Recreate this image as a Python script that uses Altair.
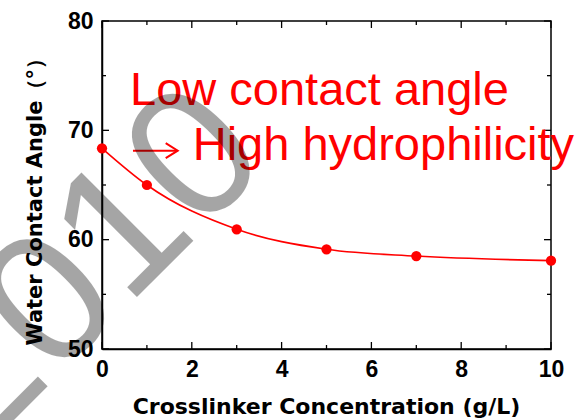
import altair as alt
import pandas as pd

# data
conc = [0, 1, 3, 5, 7, 10]
angle = [68.36, 65.0, 60.95, 59.12, 58.5, 58.08]

x_major = [0, 2, 4, 6, 8, 10]
x_minor = [1, 3, 5, 7, 9]
y_major = [50, 60, 70, 80]
y_minor = [55, 65, 75]

label1 = "Low contact angle"
label2 = "High hydrophilicity"
watermark = "2010"

W, H = 449, 328
xs = alt.Scale(domain=[0, 10], nice=False, zero=False)
ys = alt.Scale(domain=[50, 80], nice=False, zero=False)

df = pd.DataFrame({"c": conc, "a": angle})
one = pd.DataFrame({"k": [0]})

x_axis = alt.Axis(
    values=x_major, format="d", ticks=False, tickSize=0, grid=False,
    domainColor="black", domainWidth=1.5,
    labelFont="Liberation Sans", labelFontWeight="bold", labelFontSize=23,
    labelColor="black", labelPadding=9, labelFlush=False, labelOverlap=False,
    title="Crosslinker Concentration (g/L)", titleFont="DejaVu Sans",
    titleFontWeight="bold", titleFontSize=22, titleColor="black",
    titleX=224, titleY=64, titleBaseline="alphabetic", titleAlign="center",
)
y_axis = alt.Axis(
    values=y_major, format="d", ticks=False, tickSize=0, grid=False,
    domainColor="black", domainWidth=1.5,
    labelFont="Liberation Sans", labelFontWeight="bold", labelFontSize=23,
    labelColor="black", labelPadding=9, labelFlush=False, labelOverlap=False,
    title="Water Contact Angle（°）", titleFont="DejaVu Sans",
    titleFontWeight="bold", titleFontSize=21, titleColor="black",
    titleX=-67, titleY=324, titleAngle=270, titleAlign="left",
    titleBaseline="middle",
)

def X(field=None, datum=None):
    if field is not None:
        return alt.X(field, type="quantitative", scale=xs, axis=x_axis, title=x_axis.title)
    return alt.X(datum=datum, scale=xs, axis=x_axis, title=x_axis.title)

def Y(field=None, datum=None):
    if field is not None:
        return alt.Y(field, type="quantitative", scale=ys, axis=y_axis, title=y_axis.title)
    return alt.Y(datum=datum, scale=ys, axis=y_axis, title=y_axis.title)

line = alt.Chart(df).mark_line(color="red", strokeWidth=1.6, interpolate="monotone").encode(
    x=X("c"), y=Y("a"))
points = alt.Chart(df).mark_circle(color="red", size=105, opacity=1).encode(
    x=X("c"), y=Y("a"))

def xticks(vals, length):
    d = pd.DataFrame({"v": vals})
    bottom = alt.Chart(d).mark_rule(color="black", strokeWidth=1.3).encode(
        x=X("v"), y=alt.value(H), y2=alt.value(H - length))
    top = alt.Chart(d).mark_rule(color="black", strokeWidth=1.3).encode(
        x=X("v"), y=alt.value(0), y2=alt.value(length))
    return [bottom, top]

def yticks(vals, length):
    d = pd.DataFrame({"v": vals})
    left = alt.Chart(d).mark_rule(color="black", strokeWidth=1.3).encode(
        y=Y("v"), x=alt.value(0), x2=alt.value(length))
    right = alt.Chart(d).mark_rule(color="black", strokeWidth=1.3).encode(
        y=Y("v"), x=alt.value(W), x2=alt.value(W - length))
    return [left, right]

ticks = xticks(x_major, 7) + xticks(x_minor, 4) + yticks(y_major, 7) + yticks(y_minor, 4)

def txt(text, x, y, **kw):
    return alt.Chart(one).mark_text(text=text, **kw).encode(x=X(datum=x), y=Y(datum=y))

t1 = txt(label1, 0.624, 72.36, align="left", baseline="alphabetic",
         font="Liberation Sans", fontSize=47, color="red")
t2 = txt(label2, 2.02, 67.29, align="left", baseline="alphabetic",
         font="Liberation Sans", fontSize=47, color="red")

arrow_line = alt.Chart(one).mark_rule(color="red", strokeWidth=2).encode(
    x=X(datum=0.69), x2=alt.X2(datum=1.675), y=Y(datum=68.14))
arrow_head = alt.Chart(one).mark_point(
    shape="M-1,-0.625L0,0L-1,0.625", size=576, filled=False, strokeWidth=2,
    color="red", opacity=1).encode(x=X(datum=1.686), y=Y(datum=68.14))

wm = txt(watermark, 0.557, 53.84, align="center", baseline="alphabetic",
         font="Liberation Sans", fontSize=185, angle=315, color="black", opacity=0.35)

chart = alt.layer(line, points, *ticks, t1, t2, arrow_line, arrow_head, wm).properties(
    width=W, height=H,
    autosize=alt.AutoSizeParams(type="none"),
    padding={"left": 102, "top": 21, "right": 34, "bottom": 71},
    background="white",
).configure_view(stroke="black", strokeWidth=1.5)

chart.save("out.html", embed_options={"renderer": "svg", "actions": False})
